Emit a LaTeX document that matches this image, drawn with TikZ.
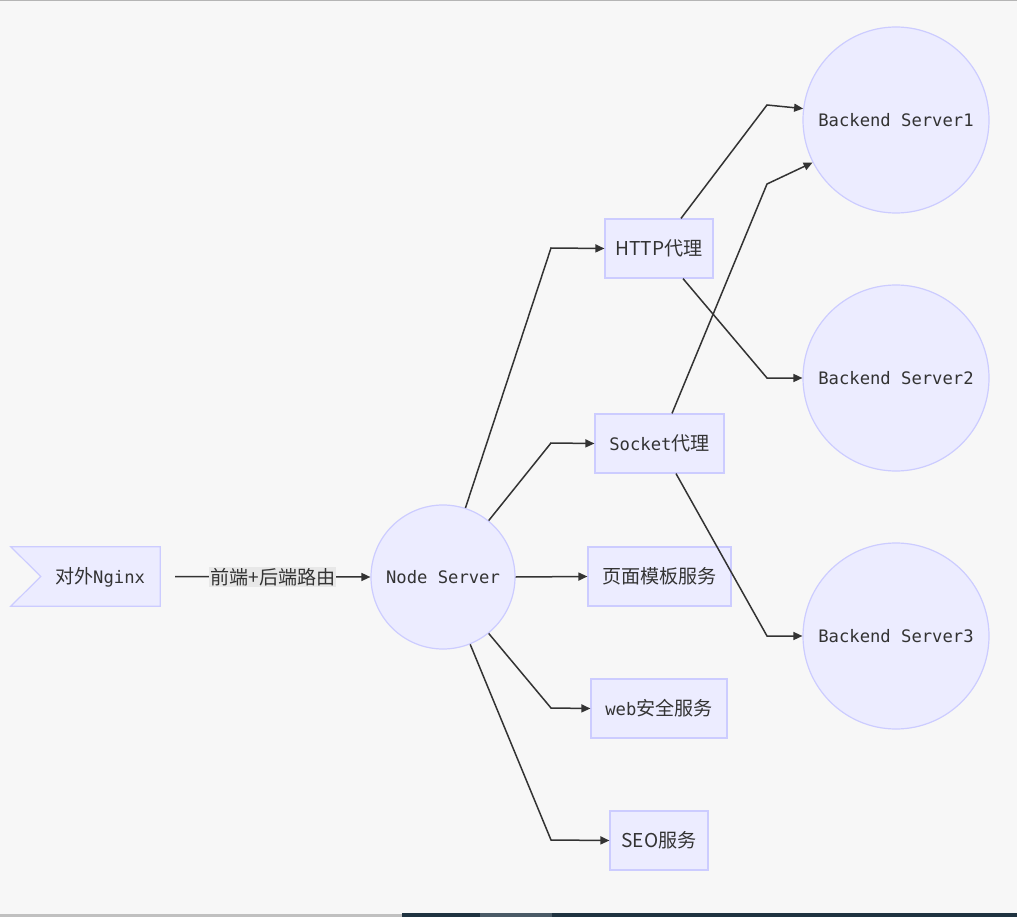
\documentclass[tikz,border=0pt]{standalone}
\usepackage{fontspec}
\newfontfamily\cjk[Scale=1.11]{Noto Sans CJK SC}
\newfontfamily\mono{DejaVu Sans Mono}
\usetikzlibrary{arrows.meta,calc}
\definecolor{bg}{HTML}{F7F7F7}
\definecolor{nfill}{HTML}{ECECFF}
\definecolor{nstroke}{HTML}{CCCCFF}
\definecolor{ink}{HTML}{333333}
\definecolor{lblbg}{HTML}{E8E8E8}
\definecolor{topline}{HTML}{B5B5B5}
\definecolor{botgrey}{HTML}{C0C0C0}
\definecolor{botdark}{HTML}{1F3340}
\definecolor{botmid}{HTML}{4A5A66}
\tikzset{
  box/.style={draw=nstroke, fill=nfill, line width=1.2pt, rectangle, minimum height=59pt, inner sep=0pt, text=ink, font=\fontsize{17.2}{20}\selectfont},
  circ/.style={draw=nstroke, fill=nfill, line width=1.2pt, circle, inner sep=0pt, text=ink, font=\fontsize{17.2}{20}\selectfont},
  conn/.style={draw=ink, line width=1.5pt, -{Triangle[length=9pt,width=8pt]}},
  lbl/.style={fill=lblbg, text=ink, inner sep=1pt, font=\fontsize{17.2}{20}\selectfont}
}
\begin{document}
\begin{tikzpicture}[x=1pt,y=-1pt]
\useasboundingbox (0,0) rectangle (1017,917);
\fill[bg] (0,0) rectangle (1017,917);
\fill[topline] (0,0) rectangle (1017,1.5);
\fill[botgrey] (0,914) rectangle (402,917);
\fill[botdark] (402,913) rectangle (1017,917);
\fill[botmid] (480,913) rectangle (552,917);

% Nginx flag
\node[minimum width=149pt, minimum height=59pt, inner sep=0pt] (ngx) at (85.5,576.5) {};
\draw[draw=nstroke, fill=nfill, line width=1.2pt] (ngx.north west) -- (ngx.north east) -- (ngx.south east) -- (ngx.south west) -- ($(ngx.west)+(30,0)$) -- cycle;
\node[text=ink, font=\fontsize{17.2}{20}\selectfont, inner sep=0pt] (ngxtext) at (100,577) {\cjk 对外\mono Nginx};

% Node server
\node[circ, minimum size=144pt] (ns) at (443,577) {\mono Node Server};

% service boxes
\node[box, minimum width=108pt] (http) at (659,248.5) {\cjk HTTP代理};
\node[box, minimum width=129pt] (sock) at (659.5,443.5) {\mono Socket\cjk 代理};
\node[box, minimum width=143pt] (page) at (659.5,576.5) {\cjk 页面模板服务};
\node[box, minimum width=136pt] (web) at (659,708.5) {\mono web\cjk 安全服务};
\node[box, minimum width=98pt] (seo) at (659,840.5) {\cjk SEO服务};

% backends
\node[circ, minimum size=186pt] (bs1) at (896,120) {\mono Backend Server1};
\node[circ, minimum size=186pt] (bs2) at (896,378) {\mono Backend Server2};
\node[circ, minimum size=186pt] (bs3) at (896,636) {\mono Backend Server3};

% connectors
\draw[conn] ($(ngx.east)+(15,0)$) -- node[lbl] (elbl) {\cjk 前端+后端路由} (ns.west);
\draw[conn] (ns.72) -- (551,248) -- (http.west);
\draw[conn] (ns.51) -- (551,443) -- (sock.west);
\draw[conn] (ns.east) -- (page.west);
\draw[conn] (ns.-51) -- (551,708) -- (web.west);
\draw[conn] (ns.-68) -- (551,840) -- (seo.west);

\draw[conn] ($(http.north)+(22,0)$) -- (767,105) -- (bs1.173);
\draw[conn] ($(http.south)+(24,0)$) -- (767,378) -- (bs2.west);
\draw[conn] ($(sock.north)+(12.5,0)$) -- (767,184) -- (bs1.207);
\draw[conn] ($(sock.south)+(16.5,0)$) -- (767,636) -- (bs3.west);
\end{tikzpicture}
\end{document}
